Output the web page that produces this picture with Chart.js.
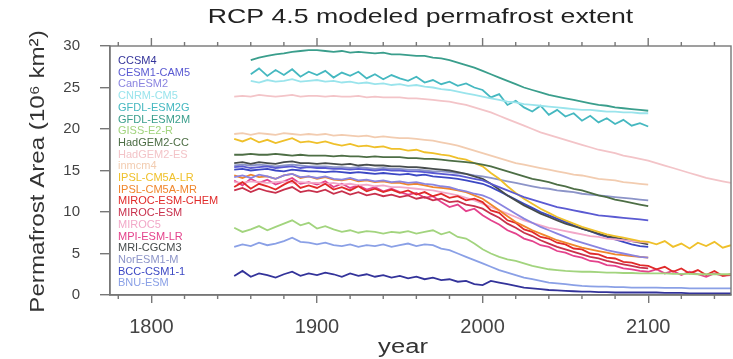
<!DOCTYPE html>
<html>
<head>
<meta charset="utf-8">
<title>RCP 4.5 permafrost extent</title>
<script src="https://cdn.jsdelivr.net/npm/chart.js@4.4.1/dist/chart.umd.min.js"></script>
<style>
  html, body { margin: 0; padding: 0; background: #fff; }
  canvas { display: block; }
</style>
</head>
<body>
<canvas id="pfChart" width="733" height="359"></canvas>
<script>
// years 1850..2150, one value every 5 years (null = no run for that period)
const years = [];
for (let y = 1850; y <= 2150; y += 5) years.push(y);

const xTickYears = [1800, 1900, 2000, 2100];
const yTickValues = [0, 5, 10, 15, 20, 25, 30];

const chartTitle = 'RCP 4.5 modeled permafrost extent';
const xTitle = 'year';
const yTitle = 'Permafrost Area (10⁶ km²)';

const modelNames = [
  'CCSM4', 'CESM1-CAM5', 'CanESM2', 'CNRM-CM5', 'GFDL-ESM2G', 'GFDL-ESM2M',
  'GISS-E2-R', 'HadGEM2-CC', 'HadGEM2-ES', 'inmcm4', 'IPSL-CM5A-LR', 'IPSL-CM5A-MR',
  'MIROC-ESM-CHEM', 'MIROC-ESM', 'MIROC5', 'MPI-ESM-LR', 'MRI-CGCM3', 'NorESM1-M',
  'BCC-CSM1-1', 'BNU-ESM'
];

const modelColors = [
  '#33339a', '#5a5ad2', '#8a84e0', '#9ae4ec', '#45b8c0', '#3a9e8c',
  '#a2d47e', '#4d6e45', '#f3c4c8', '#f2ccb0', '#efc02a', '#f0862c',
  '#e02a2a', '#c8304c', '#f2a8c8', '#e4428c', '#464c4c', '#8c94c8',
  '#3c48c4', '#8aa0e6'
];

const N = null;

const ccsm4 = [
  2.3, 2.9, 2.2, 2.6, 2.4, 2.1, 2.5, 2.8, 2.3, 2.6,
  2.4, 2.7, 2.5, 2.2, 2.6, 2.3, 2.5, 2.2, 2.4, 2.1,
  2.3, 2.0, 2.2, 1.9, 2.1, 1.8, 1.9, 1.6, 1.7, 1.3,
  1.2, 1.7, 1.5, 1.3, 1.1, 0.9, 0.8, 0.7, 0.6, 0.55,
  0.5, 0.45, 0.4, 0.4, 0.35, 0.35, 0.3, 0.3, 0.3, 0.3,
  0.3, 0.3, 0.25, 0.25, 0.25, 0.2, 0.2, 0.2, 0.2, 0.2, 0.2
];
const cesm1cam5 = [
  15.4, 15.5, 15.3, 15.4, 15.5, 15.3, 15.4, 15.5, 15.3, 15.4,
  15.3, 15.3, 15.2, 15.2, 15.1, 15.2, 15.1, 15.0, 15.1, 15.0,
  15.0, 14.9, 14.9, 14.8, 14.7, 14.6, 14.5, 14.4, 14.2, 14.0,
  13.8, 13.4, 13.0, 12.6, 12.2, 11.8, 11.5, 11.2, 10.9, 10.6,
  10.4, 10.2, 10.0, 9.8, 9.6, 9.5, 9.4, 9.3, 9.2, 9.1,
  9.0, N, N, N, N, N, N, N, N, N, N
];
const canesm2 = [
  14.2, 14.4, 14.1, 14.5, 14.3, 14.0, 14.4, 14.6, 14.2, 14.3,
  14.1, 14.3, 14.0, 13.9, 14.1, 13.8, 13.9, 13.7, 13.8, 13.6,
  13.7, 13.5, 13.6, 13.4, 13.3, 13.1, 13.0, 12.7, 12.5, 12.2,
  12.0, 11.6, 11.0, 10.4, 9.8, 9.2, 8.7, 8.2, 7.8, 7.4,
  7.0, 6.6, 6.3, 6.0, 5.7, 5.4, 5.2, 5.0, 4.8, 4.6,
  4.5, N, N, N, N, N, N, N, N, N, N
];
const cnrm = [
  N, N, 25.8, 25.6, 25.9, 25.7, 25.8, 26.0, 25.7, 25.8,
  25.9, 25.7, 25.8, 25.6, 25.7, 25.5, 25.6, 25.4, 25.5, 25.3,
  25.4, 25.2, 25.3, 25.1, 25.0, 24.8, 24.7, 24.5, 24.3, 24.1,
  23.9, 23.7, 23.5, 23.3, 23.2, 23.0, 22.9, 22.8, 22.7, 22.6,
  22.5, 22.4, 22.3, 22.3, 22.2, 22.1, 22.1, 22.0, 22.0, 21.9,
  21.9, N, N, N, N, N, N, N, N, N, N
];
const gfdlEsm2g = [
  N, N, 26.6, 27.3, 26.4, 27.1, 26.5, 27.2, 26.3, 26.9,
  26.5, 27.0, 26.2, 26.8, 26.4, 26.9, 26.1, 26.6, 26.0, 26.5,
  26.1, 25.8, 26.3, 25.6, 25.9, 25.4, 25.7, 25.2, 25.5, 25.0,
  24.7, 23.8, 24.2, 22.9, 23.4, 22.6, 22.1, 22.8, 21.7, 22.3,
  21.5, 21.9, 21.0, 21.6, 20.8, 21.3, 20.6, 21.1, 20.4, 20.7,
  20.3, N, N, N, N, N, N, N, N, N, N
];
const gfdlEsm2m = [
  N, N, 28.3, 28.6, 28.8, 29.0, 29.1, 29.3, 29.4, 29.5,
  29.5, 29.4, 29.3, 29.4, 29.2, 29.3, 29.2, 29.1, 29.2, 29.0,
  29.0, 28.9, 28.8, 28.8, 28.6, 28.5, 28.3, 28.0, 27.7, 27.4,
  27.0, 26.6, 26.2, 25.8, 25.4, 25.0, 24.7, 24.4, 24.1, 23.9,
  23.7, 23.5, 23.3, 23.1, 22.9, 22.8, 22.6, 22.5, 22.4, 22.3,
  22.2, N, N, N, N, N, N, N, N, N, N
];
const giss = [
  8.1, 7.6, 7.9, 8.3, 7.8, 8.2, 8.6, 9.0, 8.4, 8.7,
  8.0, 8.3, 7.9, 7.6, 7.8, 7.5, 7.7, 7.6, 7.4, 7.6,
  7.5, 7.7, 7.4, 7.6, 7.8, 7.3, 7.6, 7.0, 6.8, 6.2,
  5.5, 5.0, 4.6, 4.3, 4.1, 3.8, 3.5, 3.3, 3.1, 3.0,
  2.9, 2.85, 2.8, 2.8, 2.75, 2.7, 2.7, 2.65, 2.65, 2.6,
  2.6, 2.6, 2.6, 2.55, 2.55, 2.55, 2.5, 2.5, 2.5, 2.5, 2.5
];
const hadgem2cc = [
  16.9, 16.9, 17.0, 16.9, 16.9, 17.0, 16.9, 16.8, 16.9, 16.8,
  16.8, 16.8, 16.7, 16.8, 16.7, 16.7, 16.6, 16.7, 16.6, 16.6,
  16.6, 16.5, 16.5, 16.4, 16.4, 16.3, 16.2, 16.1, 16.0, 15.9,
  15.7, 15.5, 15.2, 14.9, 14.6, 14.3, 14.0, 13.8, 13.6, 13.3,
  13.1, 12.8, 12.6, 12.3, 12.0, 11.8, 11.5, 11.3, 11.1, 10.9,
  10.7, N, N, N, N, N, N, N, N, N, N
];
const hadgem2es = [
  23.9, 24.0, 23.9, 24.1, 24.0, 23.9, 24.0, 24.1, 23.9, 24.0,
  24.0, 23.9, 24.0, 23.9, 23.9, 24.0, 23.8, 23.9, 23.8, 23.8,
  23.8, 23.7, 23.7, 23.6, 23.5, 23.4, 23.3, 23.1, 22.9, 22.6,
  22.3, 22.0, 21.6, 21.2, 20.8, 20.4, 20.0, 19.6, 19.3, 19.0,
  18.7, 18.4, 18.1, 17.8, 17.5, 17.3, 17.1, 16.8, 16.6, 16.4,
  16.2, 15.9, 15.6, 15.3, 15.0, 14.7, 14.4, 14.1, 13.9, 13.7, 13.5
];
const inmcm4 = [
  19.4, 19.5, 19.3, 19.5, 19.4, 19.3, 19.5, 19.4, 19.3, 19.4,
  19.3, 19.4, 19.2, 19.3, 19.2, 19.1, 19.2, 19.0, 19.1, 19.0,
  18.9, 18.9, 18.8, 18.7, 18.6, 18.4, 18.2, 18.0, 17.7, 17.4,
  17.1, 16.8, 16.5, 16.2, 15.9, 15.7, 15.5, 15.3, 15.1, 14.9,
  14.7, 14.5, 14.4, 14.2, 14.0, 13.9, 13.8, 13.6, 13.5, 13.4,
  13.3, N, N, N, N, N, N, N, N, N, N
];
const ipslLR = [
  18.8, 18.5, 18.9, 18.4, 18.7, 18.3, 18.6, 18.9, 18.4, 18.5,
  18.3, 18.5, 18.2, 18.0, 18.2, 17.9, 18.0, 17.8, 17.9, 17.6,
  17.6, 17.4, 17.5, 17.2, 17.1, 16.9, 16.8, 16.5, 16.3, 15.9,
  15.5, 14.7, 14.0, 13.1, 12.3, 11.6, 11.0, 10.4, 9.9, 9.4,
  9.0, 8.6, 8.2, 7.9, 7.6, 7.3, 7.1, 6.9, 6.7, 6.5,
  6.4, 6.1, 6.5, 5.8, 6.2, 5.6, 6.3, 5.9, 6.4, 5.7, 6.0
];
const ipslMR = [
  14.4, 14.1, 14.5, 14.2, 14.3, 14.0, 14.4, 14.6, 14.1, 14.3,
  14.0, 14.2, 13.9, 13.8, 14.0, 13.7, 13.8, 13.6, 13.7, 13.5,
  13.5, 13.3, 13.4, 13.2, 13.0, 12.9, 12.8, 12.6, 12.4, 12.0,
  11.6, 10.9, 10.2, 9.5, 8.8, 8.3, 7.8, 7.4, 7.0, 6.6,
  6.3, 6.0, 5.7, 5.5, 5.3, 5.1, 4.9, 4.8, 4.7, 4.6,
  4.5, N, N, N, N, N, N, N, N, N, N
];
const mirocChem = [
  13.0, 13.6, 12.8, 13.4, 13.1, 12.7, 13.3, 13.8, 12.9, 13.2,
  12.9, 13.4, 12.7, 13.0, 12.6, 13.1, 12.5, 12.8, 12.4, 12.7,
  12.3, 12.6, 12.1, 12.4, 11.9, 12.2, 11.7, 11.9, 11.4, 11.6,
  11.2, 10.2, 9.9, 9.0, 8.7, 7.9, 7.6, 7.0, 6.8, 6.3,
  6.1, 5.6, 5.5, 5.0, 4.9, 4.5, 4.4, 4.0, 3.9, 3.6,
  3.5, 3.1, 3.4, 2.8, 3.2, 2.6, 3.0, 2.4, 2.9, 2.3, 2.5
];
const mirocEsm = [
  12.6, 12.9, 12.4, 12.8, 12.5, 12.3, 12.7, 13.0, 12.4, 12.6,
  12.4, 12.7, 12.2, 12.5, 12.1, 12.4, 12.0, 12.2, 11.9, 12.1,
  11.8, 12.0, 11.6, 11.8, 11.4, 11.6, 11.2, 11.3, 10.9, 10.7,
  10.4, 9.8, 9.3, 8.6, 8.1, 7.5, 7.1, 6.6, 6.2, 5.8,
  5.5, 5.2, 4.9, 4.6, 4.4, 4.1, 3.9, 3.7, 3.5, 3.3,
  3.2, N, N, N, N, N, N, N, N, N, N
];
const miroc5 = [
  13.6, 13.5, 13.7, 13.6, 13.5, 13.6, 13.7, 13.5, 13.6, 13.5,
  13.5, 13.4, 13.5, 13.3, 13.4, 13.2, 13.3, 13.1, 13.2, 13.0,
  13.0, 12.9, 12.8, 12.7, 12.6, 12.4, 12.2, 12.0, 11.7, 11.4,
  11.0, 10.6, 10.2, 9.8, 9.4, 9.0, 8.7, 8.4, 8.1, 7.9,
  7.7, 7.5, 7.3, 7.1, 7.0, 6.8, 6.7, 6.6, 6.5, 6.4,
  6.3, N, N, N, N, N, N, N, N, N, N
];
const mpiLR = [
  13.8, 13.2, 14.0, 13.5, 13.9, 13.3, 13.7, 14.1, 13.4, 13.6,
  13.3, 13.7, 13.0, 13.4, 12.9, 13.2, 12.7, 13.0, 12.5, 12.8,
  12.4, 12.1, 12.3, 11.7, 11.9, 11.2, 10.6, 10.9, 10.1, 10.4,
  9.6, 9.0, 8.5, 7.8, 7.4, 6.8, 6.5, 6.0, 5.8, 5.3,
  5.1, 4.7, 4.5, 4.1, 4.0, 3.6, 3.5, 3.2, 3.1, 2.9,
  2.8, 3.1, 2.6, 2.9, 2.4, 2.8, 2.5, 2.2, 2.6, 2.3, 2.4
];
const mri = [
  15.9, 16.0, 15.8, 16.0, 15.9, 15.8, 16.0, 16.1, 15.9, 15.9,
  15.8, 15.9, 15.8, 15.7, 15.8, 15.6, 15.7, 15.6, 15.6, 15.5,
  15.5, 15.4, 15.4, 15.3, 15.2, 15.1, 15.0, 14.8, 14.6, 14.3,
  14.0, 13.4, 12.7, 12.0, 11.4, 10.8, 10.3, 9.8, 9.4, 9.0,
  8.6, 8.3, 8.0, 7.7, 7.4, 7.1, 6.9, 6.7, 6.5, 6.3,
  6.1, N, N, N, N, N, N, N, N, N, N
];
const noresm = [
  15.6, 15.7, 15.6, 15.7, 15.6, 15.5, 15.6, 15.7, 15.6, 15.5,
  15.5, 15.5, 15.4, 15.4, 15.3, 15.4, 15.3, 15.2, 15.3, 15.2,
  15.2, 15.1, 15.1, 15.0, 14.9, 14.9, 14.8, 14.7, 14.6, 14.4,
  14.3, 14.1, 13.9, 13.7, 13.5, 13.3, 13.1, 12.9, 12.8, 12.6,
  12.5, 12.4, 12.2, 12.1, 12.0, 11.9, 11.8, 11.7, 11.6, 11.5,
  11.4, N, N, N, N, N, N, N, N, N, N
];
const bcc = [
  15.1, 15.2, 15.0, 15.1, 15.2, 15.0, 14.9, 15.1, 15.0, 14.9,
  14.9, 14.8, 14.9, 14.8, 14.7, 14.8, 14.7, 14.6, 14.7, 14.6,
  14.5, 14.6, 14.4, 14.5, 14.3, 14.2, 14.1, 14.0, 13.8, 13.6,
  13.4, 13.0, 12.5, 12.0, 11.5, 11.0, 10.5, 10.0, 9.6, 9.2,
  8.8, 8.4, 8.0, 7.7, 7.3, 7.0, 6.7, 6.4, 6.1, 5.9,
  5.8, N, N, N, N, N, N, N, N, N, N
];
const bnu = [
  5.8, 6.1, 5.9, 6.3, 6.0, 6.2, 6.5, 6.9, 6.4, 6.3,
  6.1, 6.3, 6.0, 5.9, 6.1, 5.8, 6.0, 5.9, 6.1, 5.8,
  6.0, 6.2, 5.9, 6.1, 6.0, 5.6, 5.4, 5.0, 4.6, 4.2,
  3.8, 3.4, 3.0, 2.7, 2.4, 2.1, 1.9, 1.7, 1.5, 1.4,
  1.3, 1.2, 1.1, 1.05, 1.0, 1.0, 0.95, 0.95, 0.9, 0.9,
  0.9, 0.9, 0.85, 0.85, 0.85, 0.8, 0.8, 0.8, 0.8, 0.8, 0.8
];

const modelSeries = [
  ccsm4, cesm1cam5, canesm2, cnrm, gfdlEsm2g, gfdlEsm2m,
  giss, hadgem2cc, hadgem2es, inmcm4, ipslLR, ipslMR,
  mirocChem, mirocEsm, miroc5, mpiLR, mri, noresm,
  bcc, bnu
];

const FONT = '"Liberation Sans", Arial, Helvetica, sans-serif';

const datasets = modelSeries.map((vals, i) => ({
  label: modelNames[i],
  data: years.map((yr, k) => ({ x: yr, y: vals[k] })),
  borderColor: modelColors[i],
  backgroundColor: modelColors[i],
  borderWidth: 1.8,
  pointRadius: 0,
  tension: 0,
  spanGaps: false
}));

// draws text widened along its baseline by sx (the plot's lettering is wide)
function wideText(ctx, text, x, y, size, sx, rot) {
  ctx.save();
  ctx.translate(x, y);
  if (rot) ctx.rotate(rot);
  ctx.scale(sx, 1);
  ctx.font = size + 'px ' + FONT;
  ctx.textAlign = 'center';
  ctx.textBaseline = 'middle';
  ctx.fillText(text, 0, 0);
  ctx.restore();
}

// box around the plot, ticks on the top side, minor ticks, titles
const framePlugin = {
  id: 'frame',
  afterDraw(chart) {
    const { ctx, chartArea: a, scales } = chart;
    ctx.save();
    ctx.strokeStyle = '#777';
    ctx.lineWidth = 1.4;
    ctx.strokeRect(a.left, a.top, a.right - a.left, a.bottom - a.top);
    ctx.beginPath();
    xTickYears.forEach(v => {
      const px = scales.x.getPixelForValue(v);
      ctx.moveTo(px, a.top);
      ctx.lineTo(px, a.top - 8);
    });
    for (let v = 1780; v <= 2140; v += 20) {
      if (v % 100 === 0) continue;
      const px = scales.x.getPixelForValue(v);
      ctx.moveTo(px, a.bottom);
      ctx.lineTo(px, a.bottom + 4);
      ctx.moveTo(px, a.top);
      ctx.lineTo(px, a.top - 4);
    }
    ctx.stroke();

    ctx.fillStyle = '#222';
    wideText(ctx, chartTitle, (a.left + a.right) / 2, 17, 21, 1.27);
    ctx.fillStyle = '#333';
    wideText(ctx, xTitle, 403, 347, 20, 1.28);
    wideText(ctx, yTitle, 38, (a.top + a.bottom) / 2 + 1, 21, 1.15, -Math.PI / 2);
    ctx.restore();
  }
};

// model names written in their line colour, top-left inside the plot
const legendPlugin = {
  id: 'modelLegend',
  afterDatasetsDraw(chart) {
    const { ctx, chartArea: a } = chart;
    ctx.save();
    ctx.font = '11px ' + FONT;
    ctx.textBaseline = 'middle';
    ctx.textAlign = 'left';
    chart.data.datasets.forEach((ds, i) => {
      ctx.fillStyle = ds.borderColor;
      ctx.fillText(ds.label, a.left + 8, a.top + 15 + i * 11.7);
    });
    ctx.restore();
  }
};

new Chart(document.getElementById('pfChart').getContext('2d'), {
  type: 'line',
  data: { datasets: datasets },
  options: {
    responsive: false,
    animation: false,
    layout: { padding: { left: 0, right: 2, top: 46, bottom: 0 } },
    plugins: {
      legend: { display: false },
      tooltip: { enabled: false },
      title: { display: false }
    },
    scales: {
      x: {
        type: 'linear',
        min: 1775,
        max: 2150,
        afterBuildTicks: s => { s.ticks = xTickYears.map(v => ({ value: v })); },
        afterFit: s => { s.height = 64; },
        grid: { drawOnChartArea: false, tickLength: 8, color: '#777', lineWidth: 1.4 },
        border: { color: '#777', width: 1.4 },
        ticks: {
          color: '#444',
          font: { family: FONT, size: 20 },
          padding: 12,
          maxRotation: 0,
          callback: v => String(v)
        }
      },
      y: {
        min: 0,
        max: 30,
        afterBuildTicks: s => { s.ticks = yTickValues.map(v => ({ value: v })); },
        afterFit: s => { s.width = 110; },
        grid: { drawOnChartArea: false, tickLength: 10, color: '#777', lineWidth: 1.4 },
        border: { color: '#777', width: 1.4 },
        ticks: {
          color: '#444',
          font: { family: FONT, size: 15 },
          padding: 20,
          callback: v => String(v)
        }
      }
    }
  },
  plugins: [framePlugin, legendPlugin]
});
</script>
</body>
</html>
